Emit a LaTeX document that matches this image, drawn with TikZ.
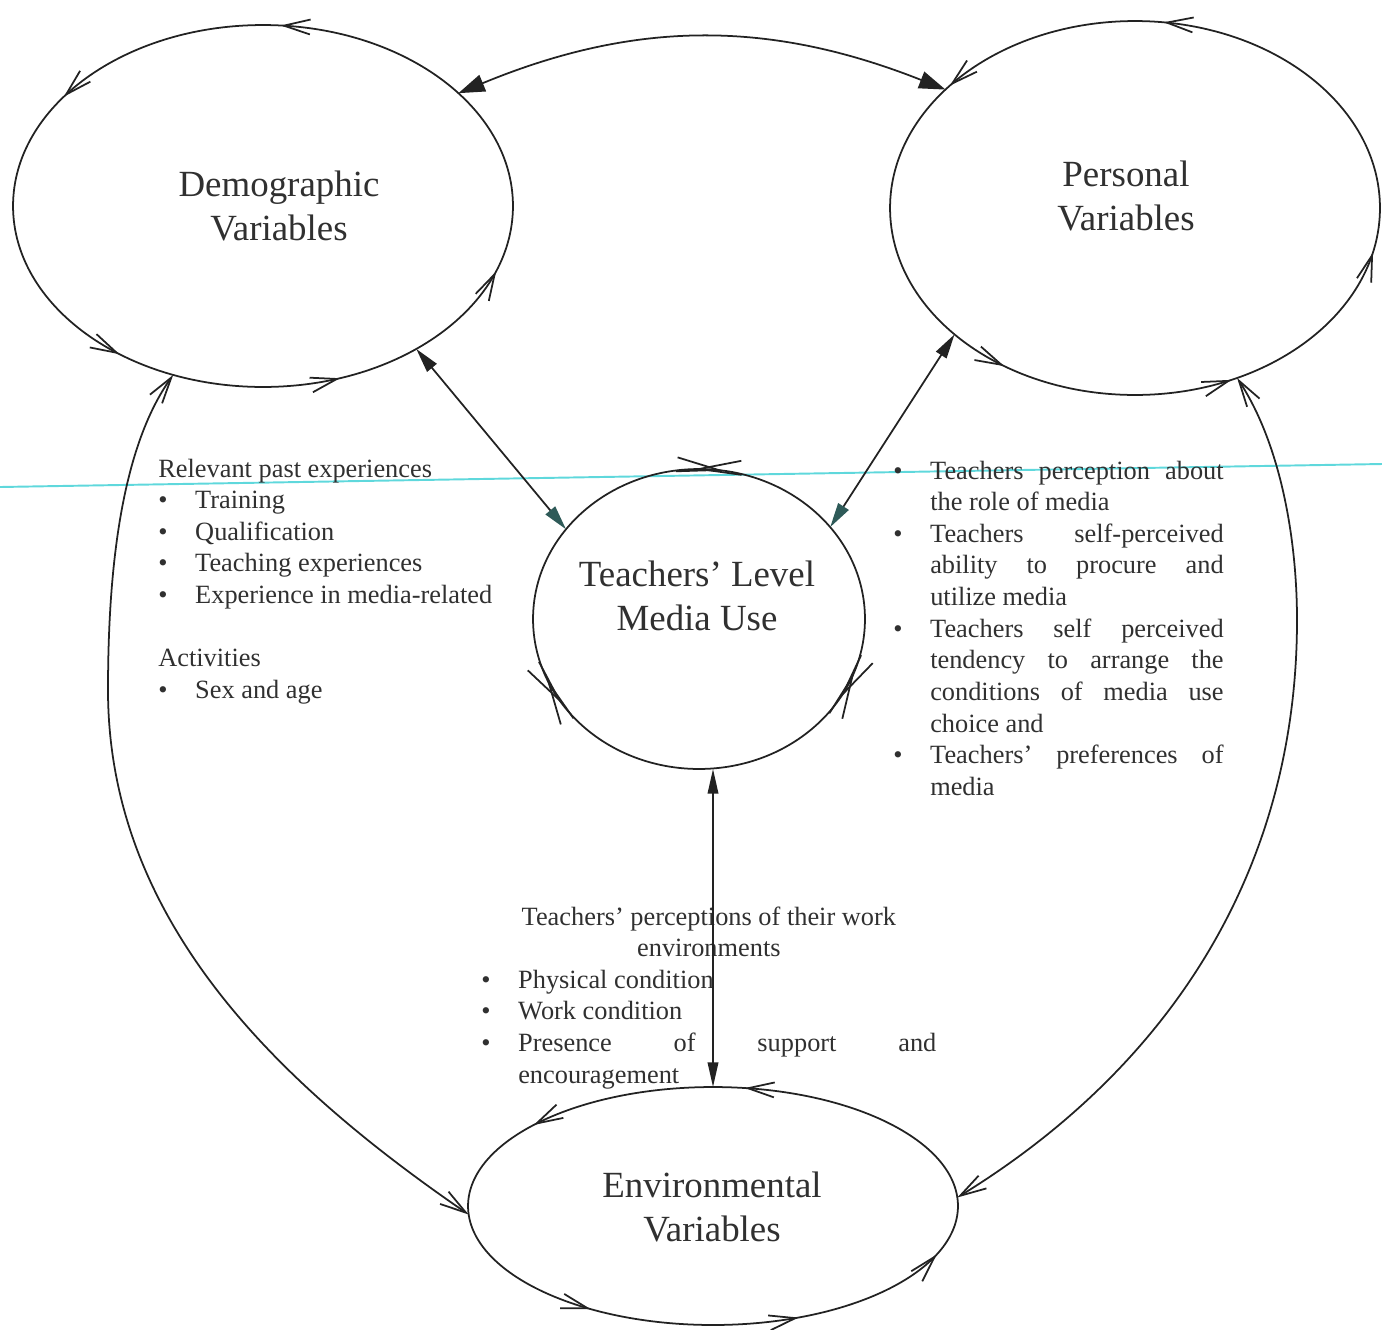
\documentclass[tikz,border=0pt]{standalone}
\usepackage{fontspec}
\setmainfont{Liberation Serif}
\usetikzlibrary{arrows.meta,decorations.markings,shapes.geometric}
\definecolor{ink}{HTML}{222222}
\definecolor{txt}{HTML}{303030}
\definecolor{scan}{HTML}{5FD8DC}
\definecolor{tealtip}{HTML}{2E5A58}
\newcommand{\mybul}{\makebox[21pt][l]{\textbullet}}
\newcommand{\myind}{\hspace*{21pt}}
\tikzset{
  ob/.tip={Straight Barb[length=15pt,width=8.5pt]},
  lb/.tip={Straight Barb[length=24pt,width=8pt]},
  ell/.style={ellipse, draw=ink, color=ink, line width=1pt, inner sep=0pt, outer sep=0pt},
  outmarks/.style n args={5}{postaction={decorate,decoration={markings,
    mark=at position #1 with {\arrow{ob}},
    mark=at position #2 with {\arrow{ob}},
    mark=at position #3 with {\arrow{ob}},
    mark=at position #4 with {\arrow{ob}},
    mark=at position #5 with {\arrow{ob}}}}},
  dblmarks/.style n args={6}{postaction={decorate,decoration={markings,
    mark=at position #1 with {\arrowreversed{lb}},
    mark=at position #2 with {\arrow{lb}},
    mark=at position #3 with {\arrowreversed{lb}},
    mark=at position #4 with {\arrow{lb}},
    mark=at position #5 with {\arrowreversed{lb}},
    mark=at position #6 with {\arrow{lb}}}}},
  title/.style={font=\fontsize{21}{25}\selectfont, align=center, text=txt, inner sep=0pt},
  body/.style={font=\fontsize{15}{18}\selectfont, text=txt, inner sep=0pt, anchor=base west},
  conn/.style={draw=ink, line width=1pt},
}
\begin{document}
\begin{tikzpicture}[x=0.02cm,y=-0.02cm]
\useasboundingbox (0,0) rectangle (1382,1329);

% scan line
\coordinate (scanL) at (0,487);
\coordinate (scanR) at (1382,464);
\draw[scan, line width=1.1pt] (scanL) -- (scanR);

% ellipses
\node[ell, minimum width=10cm, minimum height=7.24cm,
      outmarks={0.237}{0.409}{0.641}{0.807}{0.950}] (dem) at (263,206) {};
\node[ell, minimum width=9.8cm, minimum height=7.48cm,
      outmarks={0.229}{0.397}{0.651}{0.822}{0.967}] (per) at (1135,208) {};
\node[ell, minimum width=6.64cm, minimum height=6cm,
      dblmarks={0.225}{0.255}{0.562}{0.592}{0.915}{0.945}] (tea) at (699,619) {};
\node[ell, minimum width=9.8cm, minimum height=4.76cm,
      outmarks={0.223}{0.407}{0.645}{0.823}{0.954}] (env) at (713,1206) {};

% titles
\node[title] (demtxt) at (279,206) {Demographic\\Variables};
\node[title] (pertxt) at (1126,196) {Personal\\Variables};
\node[title] (teatxt) at (697,596) {Teachers’ Level\\Media Use};
\node[title] (envtxt) at (712,1207) {Environmental\\Variables};

% text blocks
\node[body] (leftlist) at (158,477) {\begin{tabular}[t]{@{}l@{}}
Relevant past experiences\\
\mybul Training\\
\mybul Qualification\\
\mybul Teaching experiences\\
\mybul Experience in media-related\\
\\
Activities\\
\mybul Sex and age
\end{tabular}};

\node[body] (rightlist) at (893,479) {\begin{tabular}[t]{@{}l@{}}
\mybul\makebox[167pt][s]{Teachers perception about}\\
\myind the role of media\\
\mybul\makebox[167pt][s]{Teachers self-perceived}\\
\myind\makebox[167pt][s]{ability to procure and}\\
\myind utilize media\\
\mybul\makebox[167pt][s]{Teachers self perceived}\\
\myind\makebox[167pt][s]{tendency to arrange the}\\
\myind\makebox[167pt][s]{conditions of media use}\\
\myind choice and\\
\mybul\makebox[167pt][s]{Teachers’ preferences of}\\
\myind media
\end{tabular}};

\node[body] (bottomlist) at (481,925) {\begin{tabular}[t]{@{}l@{}}
\makebox[259pt][c]{Teachers’ perceptions of their work}\\
\makebox[259pt][c]{environments}\\
\mybul Physical condition\\
\mybul Work condition\\
\mybul\makebox[238pt][s]{Presence of support and}\\
\myind encouragement
\end{tabular}};

% connectors
\draw[conn, {Triangle[length=15pt,width=10pt]}-{Triangle[length=15pt,width=10pt]}]
  (dem.30) to[bend left=22] (per.148);
\draw[conn, {Triangle[length=14pt,width=7pt]}-{Triangle[length=14pt,width=7pt,color=tealtip]}]
  (dem.-43) -- (tea.146);
\draw[conn, {Triangle[length=14pt,width=7pt]}-{Triangle[length=14pt,width=7pt,color=tealtip]}]
  (per.215) -- (tea.35);
\draw[conn, {Triangle[length=14pt,width=6pt]}-{Triangle[length=14pt,width=6pt]}]
  (env.north |- tea.south) -- (env.north);
\draw[conn, {ob}-{ob}]
  (dem.-118) .. controls (121,448) and (108,570) .. (108,690)
  .. controls (108,920) and (277,1083) .. (env.182);
\draw[conn, {ob}-{ob}]
  (per.-59) .. controls (1281,445) and (1297,540) .. (1297,620)
  .. controls (1297,870) and (1170,1067) .. (env.2);
\end{tikzpicture}
\end{document}
